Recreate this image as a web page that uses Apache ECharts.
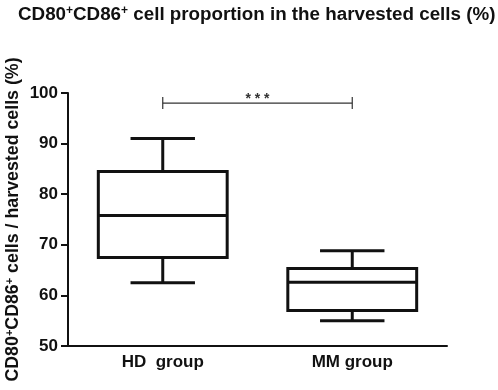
<!DOCTYPE html>
<html>
<head>
<meta charset="utf-8">
<script src="https://cdn.jsdelivr.net/npm/echarts@6/dist/echarts.min.js"></script>
<style>
  html, body { margin: 0; padding: 0; background: #fff; }
  #chart { width: 498px; height: 390px; }
</style>
</head>
<body>
<div id="chart"></div>
<script>
// groups and box statistics: [min, Q1, median, Q3, max]
const groups = ['HD  group', 'MM group'];
const hdBox = [62.5, 67.5, 75.8, 84.5, 91.0];
const mmBox = [55.0, 57.0, 62.6, 65.3, 68.8];
const yTicks = [50, 60, 70, 80, 90, 100];
// significance bracket between the two groups
const sigLevel = 98;
const sigText = '* * *';

const font = 'Liberation Sans, Arial, sans-serif';
const ink = '#111';

const boxData = [hdBox, mmBox].map((b, i) => [i].concat(b));

const chart = echarts.init(document.getElementById('chart'));

const option = {
  animation: false,
  backgroundColor: '#fff',
  title: {
    text: 'CD80{sup|+}CD86{sup|+} cell proportion in the harvested cells (%)',
    left: 18,
    top: 5,
    padding: 0,
    textStyle: {
      fontFamily: font,
      fontWeight: 'bold',
      fontSize: 18.8,
      color: ink,
      rich: {
        sup: { fontFamily: font, fontWeight: 'bold', fontSize: 12, color: ink, verticalAlign: 'top' }
      }
    }
  },
  grid: { left: 68, right: 51, top: 93, bottom: 44, outerBoundsMode: 'none', containLabel: false },
  xAxis: {
    type: 'category',
    data: groups,
    axisLine: { lineStyle: { color: ink, width: 2 } },
    axisTick: { alignWithLabel: true, length: 5, lineStyle: { color: ink, width: 2 } },
    axisLabel: { fontFamily: font, fontWeight: 'bold', fontSize: 17, color: ink, margin: 8 }
  },
  yAxis: {
    type: 'value',
    min: yTicks[0],
    max: yTicks[yTicks.length - 1],
    interval: 10,
    splitLine: { show: false },
    axisLine: { show: true, lineStyle: { color: ink, width: 2 } },
    axisTick: { show: true, length: 7, lineStyle: { color: ink, width: 2 } },
    axisLabel: { fontFamily: font, fontWeight: 'bold', fontSize: 17, color: ink, margin: 10 },
    name: 'CD80{sup|+}CD86{sup|+} cells / harvested cells (%)',
    nameLocation: 'middle',
    nameRotate: 90,
    nameGap: 46,
    nameMoveOverlap: false,
    nameTextStyle: {
      fontFamily: font,
      fontWeight: 'bold',
      fontSize: 17.8,
      color: ink,
      rich: {
        sup: { fontFamily: font, fontWeight: 'bold', fontSize: 11, color: ink, verticalAlign: 'top' }
      }
    }
  },
  series: [
    {
      type: 'custom',
      data: boxData,
      encode: { x: 0, y: [1, 2, 3, 4, 5] },
      renderItem: function (params, api) {
        const idx = api.value(0);
        const band = api.size([1, 0])[0];
        const half = band * 0.34;
        const capHalf = half * 0.5;
        const pMin = api.coord([idx, api.value(1)]);
        const pQ1 = api.coord([idx, api.value(2)]);
        const pMed = api.coord([idx, api.value(3)]);
        const pQ3 = api.coord([idx, api.value(4)]);
        const pMax = api.coord([idx, api.value(5)]);
        const x = pMed[0];
        const st = { stroke: ink, lineWidth: 3, fill: null };
        return {
          type: 'group',
          children: [
            { type: 'rect', shape: { x: x - half, y: pQ3[1], width: half * 2, height: pQ1[1] - pQ3[1] }, style: { stroke: ink, lineWidth: 3, fill: '#fff' } },
            { type: 'line', shape: { x1: x - half, y1: pMed[1], x2: x + half, y2: pMed[1] }, style: st },
            { type: 'line', shape: { x1: x, y1: pQ3[1], x2: x, y2: pMax[1] }, style: st },
            { type: 'line', shape: { x1: x, y1: pQ1[1], x2: x, y2: pMin[1] }, style: st },
            { type: 'line', shape: { x1: x - capHalf, y1: pMax[1], x2: x + capHalf, y2: pMax[1] }, style: st },
            { type: 'line', shape: { x1: x - capHalf, y1: pMin[1], x2: x + capHalf, y2: pMin[1] }, style: st }
          ]
        };
      }
    },
    {
      type: 'custom',
      data: [[0, 1, sigLevel]],
      encode: { x: [0, 1], y: 2 },
      renderItem: function (params, api) {
        const a = api.coord([api.value(0), api.value(2)]);
        const b = api.coord([api.value(1), api.value(2)]);
        const st = { stroke: '#333', lineWidth: 1.2 };
        return {
          type: 'group',
          children: [
            { type: 'line', shape: { x1: a[0], y1: a[1], x2: b[0], y2: b[1] }, style: st },
            { type: 'line', shape: { x1: a[0], y1: a[1] - 6, x2: a[0], y2: a[1] + 6 }, style: st },
            { type: 'line', shape: { x1: b[0], y1: b[1] - 6, x2: b[0], y2: b[1] + 6 }, style: st },
            { type: 'text', style: { text: sigText, x: (a[0] + b[0]) / 2, y: a[1] + 3, align: 'center', verticalAlign: 'bottom', font: 'bold 14px ' + font, fill: '#333' } }
          ]
        };
      }
    }
  ]
};

chart.setOption(option);
</script>
</body>
</html>
